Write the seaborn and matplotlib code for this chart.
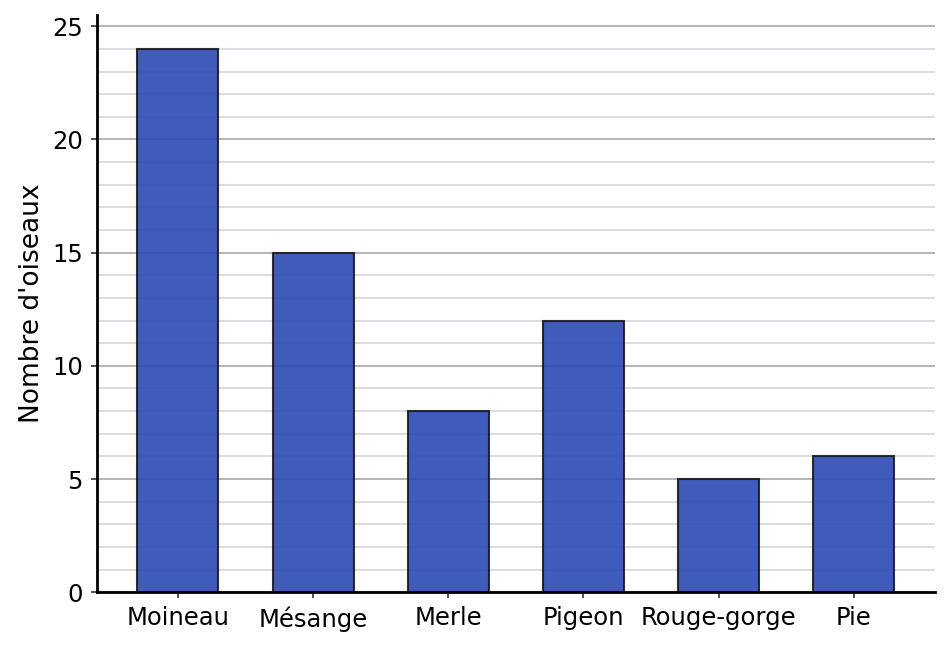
import pandas as pd
import seaborn as sns
import matplotlib.pyplot as plt
from matplotlib.ticker import MultipleLocator

birds = ['Moineau', 'Mésange', 'Merle', 'Pigeon', 'Rouge-gorge', 'Pie']
counts = [24, 15, 8, 12, 5, 6]

df = pd.DataFrame({'oiseau': birds, 'nombre': counts})

sns.set_theme(style='white')
plt.rcParams['font.family'] = ['DejaVu Sans']
plt.rcParams['text.color'] = 'black'
plt.rcParams['axes.labelcolor'] = 'black'
plt.rcParams['xtick.color'] = 'black'
plt.rcParams['ytick.color'] = 'black'

fig, ax = plt.subplots(figsize=(9.49, 6.48), dpi=100)
sns.barplot(data=df, x='oiseau', y='nombre', color='#2a4ab5', alpha=0.9,
            saturation=1, width=0.6, edgecolor='#1a1a1a', linewidth=1.5, ax=ax)

ax.set_xlim(-0.6, 5.6)
ax.set_ylim(0, 25.5)
ax.yaxis.set_major_locator(MultipleLocator(5))
ax.yaxis.set_minor_locator(MultipleLocator(1))
ax.grid(which='major', axis='y', color='#a4a8b0', linewidth=1.2)
ax.grid(which='minor', axis='y', color='#d5d7da', linewidth=1.2)
ax.set_axisbelow(True)

sns.despine(ax=ax)
for s in ['left', 'bottom']:
    ax.spines[s].set_linewidth(2)
    ax.spines[s].set_color('black')

ax.tick_params(axis='both', which='major', labelsize=17.5, length=4, width=1.2,
               color='#333333', bottom=True, left=True, pad=6)
ax.tick_params(axis='y', which='minor', length=0)
ax.set_xlabel('')
ax.set_ylabel("Nombre d'oiseaux", fontsize=19, labelpad=5)

plt.subplots_adjust(left=0.102, right=0.985, top=0.977, bottom=0.086)
plt.savefig('out.png')
plt.close()
